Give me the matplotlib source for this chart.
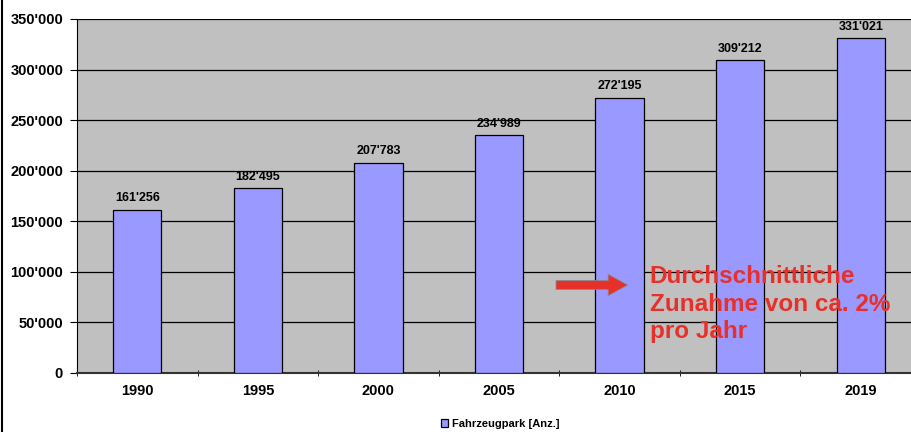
import numpy as np
import matplotlib.pyplot as plt
from matplotlib.lines import Line2D
from matplotlib.ticker import FuncFormatter

years = ['1990', '1995', '2000', '2005', '2010', '2015', '2019']
fahrzeuge = [161256, 182495, 207783, 234989, 272195, 309212, 331021]

plt.rcParams['font.family'] = ['Liberation Sans', 'DejaVu Sans']

def swiss(v, pos=None):
    return f"{int(v):,}".replace(',', "'")

fig = plt.figure(figsize=(9.11, 4.32), dpi=100)
ax = fig.add_axes([77/911, 59/432, 844/911, 354/432])
ax.set_facecolor('#C0C0C0')

x = np.arange(len(years))
ax.bar(x, fahrzeuge, width=0.4, color='#9999FF', edgecolor='black', linewidth=0.9,
       zorder=3, label='Fahrzeugpark [Anz.]')

for xi, v in zip(x, fahrzeuge):
    ax.text(xi, v + 5500, swiss(v), ha='center', va='bottom', fontsize=9,
            fontweight='bold')

ax.set_xlim(-0.5, len(years) - 0.5)
ax.set_ylim(0, 350000)
ax.set_yticks(np.arange(0, 350001, 50000))
ax.yaxis.set_major_formatter(FuncFormatter(swiss))
ax.yaxis.grid(True, color='black', linewidth=0.9, zorder=1)
ax.set_xticks(x)
ax.set_xticklabels(years)
ax.set_xticks(np.arange(-0.5, len(years)), minor=True)
ax.tick_params(axis='x', which='major', length=0, pad=8)
ax.tick_params(axis='x', which='minor', length=5, direction='inout')
ax.tick_params(axis='y', length=5, pad=5)
for lab in ax.get_xticklabels() + ax.get_yticklabels():
    lab.set_fontweight('bold')
    lab.set_fontsize(10.5)

for side in ['top', 'right']:
    ax.spines[side].set_visible(False)
ax.spines['left'].set_color('black')
ax.spines['bottom'].set_color('#333333')
ax.spines['bottom'].set_linewidth(1.5)

# red arrow and note
ax.annotate('', xy=(4.09, 87000), xytext=(3.45, 87000),
            arrowprops=dict(arrowstyle='simple,head_width=1.1,head_length=1.0,tail_width=0.45',
                            mutation_scale=14, facecolor='#E8302A', edgecolor='#888888',
                            linewidth=0.6),
            zorder=5)
ax.text(4.25, 34600, 'Durchschnittliche\nZunahme von ca. 2%\npro Jahr', color='#E8302A',
        fontsize=17.5, fontweight='bold', va='baseline', ha='left', linespacing=1.25,
        zorder=5)

leg = fig.legend(loc='center', bbox_to_anchor=(500/911, 1 - 424/432), frameon=False,
                 prop={'size': 8, 'weight': 'bold'}, handlelength=0.7, handleheight=0.7,
                 handletextpad=0.3)

fig.add_artist(Line2D([2/911, 2/911], [0, 1], color='black', linewidth=1.5))

fig.savefig('out.png', dpi=100)
